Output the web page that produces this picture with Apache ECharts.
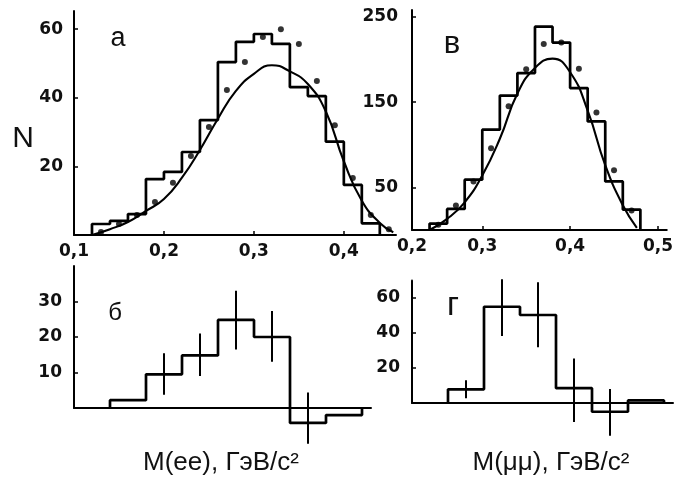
<!DOCTYPE html>
<html><head><meta charset="utf-8">
<script src="https://cdn.jsdelivr.net/npm/echarts@6/dist/echarts.min.js"></script>
<style>html,body{margin:0;padding:0;background:#fff}#c{width:676px;height:482px}</style>
</head><body><div id="c"></div>
<script>
// ---- Panel а (top-left): M(ee) histogram, dots and curve
const aEdges  = [0.12,0.14,0.16,0.18,0.20,0.22,0.24,0.26,0.28,0.30,0.32,0.34,0.36,0.38,0.40,0.42,0.44];
const aCounts = [3.2,4.1,6.1,16.3,18.4,24.2,33.5,50.4,56.3,58.6,55.7,43.1,40.5,27.2,14.6,3.4];
const aDotX   = [0.13,0.15,0.17,0.19,0.21,0.23,0.25,0.27,0.29,0.31,0.33,0.35,0.37,0.39,0.41,0.43,0.45];
const aDotY   = [0.9,3.2,5.8,9.6,15.2,23,31.5,42.3,50.4,57.7,60,55.7,44.9,32,16.6,5.8,1.7];
const aCurveX = [0.12,0.14,0.16,0.18,0.20,0.22,0.24,0.26,0.28,0.30,0.32,0.34,0.36,0.38,0.40,0.42,0.44,0.455];
const aCurveY = [0,1.7,3.8,7,10.5,16.7,24.8,33.9,42,47,49.5,47.7,44,36,21.5,10,3.5,0.8];
const aXTicks = [0.1,0.2,0.3,0.4];
const aYTicks = [20,40,60];

// ---- Panel в (top-right): M(μμ) histogram, dots and curve
const bEdges  = [0.24,0.26,0.28,0.30,0.32,0.34,0.36,0.38,0.40,0.42,0.44,0.46,0.48];
const bCounts = [7.5,24.7,59,117.6,157.7,184,238.5,219.8,166.4,127.3,57,23.9];
const bDotX   = [0.25,0.27,0.29,0.31,0.33,0.35,0.37,0.39,0.41,0.43,0.45,0.47];
const bDotY   = [6.3,28.6,57,96,145,188.6,218,220,189,137.8,70,23];
const bCurveX = [0.24,0.26,0.28,0.30,0.32,0.34,0.36,0.38,0.40,0.42,0.44,0.46,0.476];
const bCurveY = [0,13,32.5,64,107,160,190,201,185,140,76,29,2.5];
const bXTickVals = [0.22,0.3,0.4,0.5];
const bXTickText = ['0,2','0,3','0,4','0,5'];
const bYTicks = [50,150,250];

// ---- Panel б (bottom-left): M(ee) difference histogram with errors
const dEdges  = [0.14,0.18,0.22,0.26,0.30,0.34,0.38,0.42];
const dCounts = [2.2,9.5,14.8,24.8,20,-4.2,-2];
const dErrX   = [0.20,0.24,0.28,0.32,0.36];
const dErrLo  = [3.7,9,16.5,13,-10.1];
const dErrHi  = [15.4,21,33,27.3,4.4];
const dYTicks = [10,20,30];

// ---- Panel г (bottom-right): M(μμ) difference histogram with errors
const gEdges  = [0.26,0.30,0.34,0.38,0.42,0.46,0.50];
const gCounts = [7.8,55,50.3,8.5,-5,1.5];
const gErrX   = [0.28,0.32,0.36,0.40,0.44];
const gErrLo  = [2.7,38.3,31.8,-10.8,-18.7];
const gErrHi  = [13,70.7,69,25.4,8];
const gYTicks = [20,40,60];

function stepPts(edges, vals){
  const p=[[edges[0],0]];
  for(let i=0;i<vals.length;i++){ p.push([edges[i],vals[i]]); p.push([edges[i+1],vals[i]]); }
  p.push([edges[edges.length-1],0]);
  return p;
}
const zip=(x,y)=>x.map((v,i)=>[v,y[i]]);
const K='#000';
const tickFont={color:'#111',fontFamily:'DejaVu Sans',fontWeight:'bold',fontSize:17};
const comma=v=>v.toFixed(1).replace('.',',');

function xAx(idx,min,max,labels,fmt){
  return {type:'value',gridIndex:idx,min:min,max:max,
    axisLine:{onZero:false,lineStyle:{color:K,width:2}},
    splitLine:{show:false},
    axisTick:{show:true,inside:true,length:4,lineStyle:{color:K,width:1.5},customValues:labels||[]},
    axisLabel:labels?Object.assign({show:true,margin:8,customValues:labels,formatter:fmt},tickFont):{show:false}};
}
function yAx(idx,min,max,ticks,margin){
  return {type:'value',gridIndex:idx,min:min,max:max,
    axisLine:{show:true,lineStyle:{color:K,width:2}},
    splitLine:{show:false},
    axisTick:{show:true,inside:true,length:4,lineStyle:{color:K,width:1.5},customValues:ticks},
    axisLabel:Object.assign({show:true,margin:margin,customValues:ticks},tickFont)};
}
function hist(i,edges,vals){
  return {type:'line',xAxisIndex:i,yAxisIndex:i,data:stepPts(edges,vals),symbol:'none',clip:false,
    lineStyle:{color:K,width:2.7},z:3};
}
function curve(i,x,y){
  return {type:'line',xAxisIndex:i,yAxisIndex:i,data:zip(x,y),symbol:'none',smooth:0.5,clip:false,
    lineStyle:{color:K,width:2.1}};
}
function dots(i,x,y){
  return {type:'scatter',xAxisIndex:i,yAxisIndex:i,data:zip(x,y),symbol:'circle',symbolSize:6,
    itemStyle:{color:K}};
}
function errs(i,x,lo,hi){
  return {type:'custom',xAxisIndex:i,yAxisIndex:i,clip:false,
    data:x.map((v,k)=>[v,lo[k],hi[k]]),encode:{x:0,y:[1,2]},
    renderItem:function(params,api){
      const p1=api.coord([api.value(0),api.value(1)]);
      const p2=api.coord([api.value(0),api.value(2)]);
      return {type:'line',shape:{x1:p1[0],y1:p1[1],x2:p2[0],y2:p2[1]},style:{stroke:K,lineWidth:2}};
    }};
}
function txt(x,y,t,font){
  return {type:'text',x:x,y:y,style:{text:t,font:font,fill:'#111',textAlign:'center',textVerticalAlign:'middle'}};
}

const chart=echarts.init(document.getElementById('c'),null,{renderer:'canvas'});
chart.setOption({
  animation:false,
  backgroundColor:'#fff',
  grid:[
    {left:74,top:11,width:322,height:224},
    {left:412,top:10,width:261,height:220},
    {left:74,top:266,width:297,height:142},
    {left:412,top:280.5,width:261,height:122.5}
  ],
  xAxis:[
    xAx(0,0.1,0.458,aXTicks,comma),
    xAx(1,0.22,0.51,bXTickVals,v=>bXTickText[bXTickVals.findIndex(t=>Math.abs(t-v)<1e-6)]),
    xAx(2,0.1,0.43,null),
    xAx(3,0.22,0.51,null)
  ],
  yAxis:[
    yAx(0,0,65.3,aYTicks,11),
    yAx(1,0,258,bYTicks,14),
    yAx(2,0,40,dYTicks,12),
    yAx(3,0,70,gYTicks,12)
  ],
  series:[
    hist(0,aEdges,aCounts), curve(0,aCurveX,aCurveY), dots(0,aDotX,aDotY),
    hist(1,bEdges,bCounts), curve(1,bCurveX,bCurveY), dots(1,bDotX,bDotY),
    hist(2,dEdges,dCounts), errs(2,dErrX,dErrLo,dErrHi),
    hist(3,gEdges,gCounts), errs(3,gErrX,gErrLo,gErrHi)
  ],
  graphic:[
    txt(23,139,'N','30px "Liberation Sans"'),
    txt(118,39,'а','27px "Liberation Sans"'),
    txt(452,44,'в','31px "Liberation Sans"'),
    txt(115,313,'б','24px "Liberation Sans"'),
    txt(453,306,'г','33px "Liberation Sans"'),
    txt(221,463,'M(ee), ГэВ/с²','26px "Liberation Sans"'),
    txt(551,463,'M(μμ), ГэВ/с²','26px "Liberation Sans"')
  ]
});
</script>
</body></html>
